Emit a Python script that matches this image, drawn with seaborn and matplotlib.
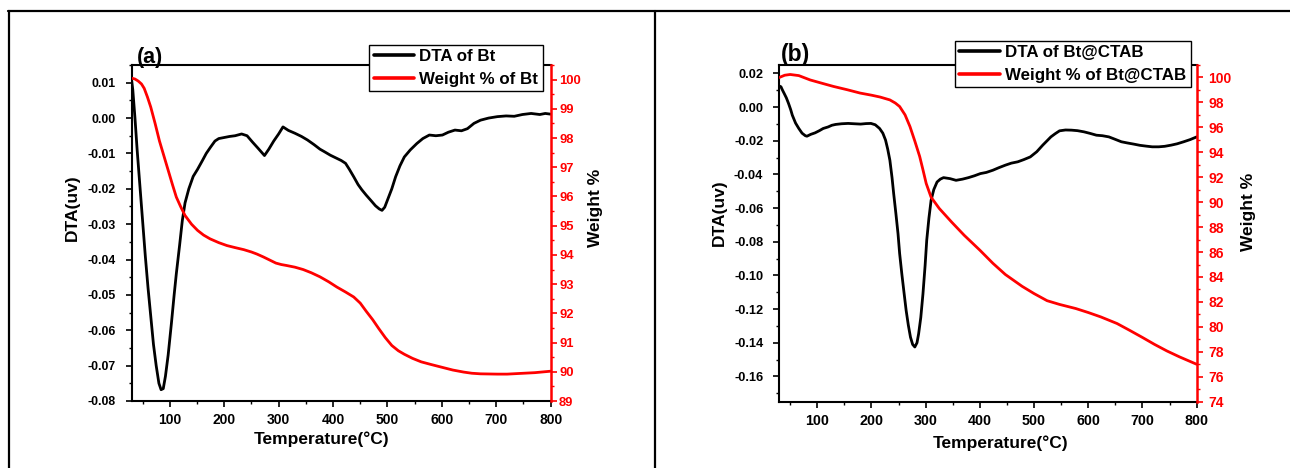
import matplotlib
matplotlib.use("Agg")
import matplotlib.pyplot as plt
from matplotlib.lines import Line2D
from matplotlib.ticker import MultipleLocator, FormatStrFormatter
import pandas as pd
import seaborn as sns

# ---- Bt: DTA signal (uv) vs temperature (°C)
bt_dta_temp = [30, 32, 36, 40, 45, 50, 55, 60, 65, 70, 75, 80, 84, 88, 92, 97, 103, 108,
               112, 118, 123, 128, 135, 143, 151, 160, 167, 175, 183, 190, 200, 210, 220,
               232, 242, 252, 262, 274, 282, 291, 300, 308, 318, 330, 342, 353, 365, 376,
               384, 395, 407, 415, 423, 430, 438, 446, 453, 461, 469, 478, 485, 490, 495,
               500, 508, 515, 523, 531, 542, 554, 565, 577, 589, 601, 612, 624, 636, 647,
               659, 671, 686, 702, 718, 733, 748, 764, 780, 790, 800]
bt_dta = [0.0105, 0.008, 0.0, -0.009, -0.019, -0.029, -0.039, -0.048, -0.056, -0.064,
          -0.070, -0.075, -0.0768, -0.0765, -0.073, -0.067, -0.058, -0.050, -0.044,
          -0.036, -0.029, -0.024, -0.020, -0.0165, -0.0145, -0.012, -0.010, -0.0082,
          -0.0065, -0.0058, -0.0055, -0.0052, -0.0050, -0.0045, -0.0050, -0.0068,
          -0.0085, -0.0106, -0.0088, -0.0065, -0.0045, -0.0025, -0.0035, -0.0043,
          -0.0052, -0.0062, -0.0075, -0.0088, -0.0095, -0.0105, -0.0114, -0.0120,
          -0.0128, -0.0145, -0.0166, -0.0188, -0.0203, -0.0218, -0.0232, -0.0248,
          -0.0257, -0.0261, -0.0252, -0.0232, -0.0200, -0.0166, -0.0135, -0.0110,
          -0.0090, -0.0072, -0.0058, -0.0048, -0.0050, -0.0048, -0.0040, -0.0034,
          -0.0036, -0.0030, -0.0015, -0.0006, 0.0000, 0.0004, 0.0006, 0.0005, 0.0010,
          0.0013, 0.0010, 0.0013, 0.0011]

# ---- Bt: weight % vs temperature (°C)
bt_wt_temp = [30, 36, 42, 48, 53, 59, 65, 73, 81, 89, 97, 105, 112, 120, 128, 140, 151,
              162, 174, 190, 205, 220, 236, 250, 260, 272, 283, 295, 305, 314, 330, 345,
              360, 376, 392, 407, 423, 438, 450, 461, 473, 484, 496, 508, 520, 531, 546,
              562, 580, 601, 620, 640, 655, 671, 702, 720, 740, 771, 800]
bt_wt = [100.05, 100.02, 99.95, 99.85, 99.7, 99.4, 99.06, 98.5, 97.9, 97.4, 96.9, 96.4,
         95.98, 95.65, 95.35, 95.05, 94.84, 94.68, 94.55, 94.42, 94.32, 94.25, 94.18,
         94.1, 94.03, 93.93, 93.83, 93.72, 93.67, 93.64, 93.58, 93.5, 93.39, 93.25,
         93.08, 92.9, 92.73, 92.56, 92.35, 92.07, 91.78, 91.48, 91.17, 90.9, 90.72,
         90.6, 90.46, 90.34, 90.25, 90.15, 90.06, 89.99, 89.95, 89.93, 89.92, 89.92,
         89.94, 89.97, 90.02]

# ---- Bt@CTAB: DTA signal (uv) vs temperature (°C)
ctab_dta_temp = [30, 33, 36, 39, 43, 47, 51, 54, 60, 66, 72, 78, 81, 88, 96, 104, 111,
                 120, 127, 134, 145, 157, 168, 180, 190, 199, 207, 215, 221, 226, 230,
                 234, 238, 241, 245, 249, 252, 256, 260, 264, 268, 272, 276, 280, 284,
                 287, 291, 295, 299, 302, 306, 310, 315, 321, 327, 333, 345, 356, 368,
                 379, 390, 401, 412, 424, 435, 447, 458, 470, 481, 493, 505, 516, 524,
                 531, 539, 547, 558, 569, 580, 592, 603, 615, 626, 638, 650, 661, 672,
                 684, 695, 707, 718, 730, 741, 753, 764, 776, 788, 800]
ctab_dta = [0.0125, 0.0121, 0.0100, 0.0081, 0.0055, 0.0022, -0.0015, -0.0048, -0.0095,
            -0.0127, -0.0155, -0.0170, -0.0173, -0.0162, -0.0153, -0.0140, -0.0127,
            -0.0118, -0.0108, -0.0103, -0.0099, -0.0097, -0.0099, -0.0101, -0.0098,
            -0.0097, -0.0105, -0.0127, -0.0155, -0.0196, -0.0250, -0.0316, -0.0420,
            -0.0514, -0.0630, -0.0752, -0.0870, -0.0990, -0.1100, -0.1208, -0.1295,
            -0.1367, -0.1410, -0.1425, -0.1400, -0.1347, -0.1250, -0.1110, -0.0940,
            -0.0790, -0.0660, -0.0554, -0.0490, -0.0445, -0.0428, -0.0419, -0.0425,
            -0.0435, -0.0428, -0.0419, -0.0408, -0.0395, -0.0388, -0.0375, -0.0360,
            -0.0345, -0.0333, -0.0325, -0.0312, -0.0296, -0.0265, -0.0226, -0.0200,
            -0.0177, -0.0158, -0.0141, -0.0136, -0.0137, -0.0140, -0.0147, -0.0156,
            -0.0167, -0.0170, -0.0177, -0.0192, -0.0206, -0.0213, -0.0220, -0.0227,
            -0.0232, -0.0236, -0.0236, -0.0233, -0.0226, -0.0218, -0.0206, -0.0193,
            -0.0177]

# ---- Bt@CTAB: weight % vs temperature (°C)
ctab_wt_temp = [30, 40, 50, 66, 87, 110, 130, 155, 179, 200, 216, 234, 244, 252, 262,
                271, 280, 289, 295, 301, 310, 325, 348, 371, 400, 424, 447, 478, 500,
                524, 547, 577, 600, 623, 653, 676, 700, 722, 745, 768, 800]
ctab_wt = [100.0, 100.18, 100.24, 100.15, 99.8, 99.52, 99.28, 99.02, 98.75, 98.58,
           98.43, 98.2, 97.95, 97.67, 97.0, 96.07, 94.9, 93.66, 92.6, 91.5, 90.4, 89.5,
           88.4, 87.35, 86.15, 85.1, 84.2, 83.25, 82.67, 82.1, 81.8, 81.47, 81.15,
           80.8, 80.27, 79.73, 79.15, 78.6, 78.07, 77.6, 77.0]

sns.set_theme(style="ticks")
plt.rcParams["font.family"] = ["Liberation Sans", "DejaVu Sans"]
plt.rcParams["font.weight"] = "bold"
plt.rcParams["axes.labelweight"] = "bold"
plt.rcParams["axes.unicode_minus"] = False
plt.rcParams["text.color"] = "black"
plt.rcParams["axes.labelcolor"] = "black"

fig = plt.figure(figsize=(12.9, 4.68), dpi=100)
W, H = 1290.0, 468.0

# table-style frame around the two panels
frame_kw = dict(transform=fig.transFigure, color="black", lw=1.6)
fig.add_artist(Line2D([8 / W, 1.0], [1 - 11 / H, 1 - 11 / H], **frame_kw))
fig.add_artist(Line2D([8.5 / W, 8.5 / W], [0, 1 - 11 / H], **frame_kw))
fig.add_artist(Line2D([655 / W, 655 / W], [0, 1 - 11 / H], **frame_kw))


def panel(rect, dta_t, dta_v, wt_t, wt_v, names, tag, ylim, ystep, y2lim, y2step,
          sizes, pads, label_pos, leg_anchor, leg_size, tag_pos, tag_size):
    ax = fig.add_axes(rect)
    ax2 = ax.twinx()

    dta_df = pd.DataFrame({"T": dta_t, "DTA": dta_v})
    wt_df = pd.DataFrame({"T": wt_t, "W": wt_v})
    sns.lineplot(data=dta_df, x="T", y="DTA", ax=ax, color="black", lw=2.0,
                 sort=False, legend=False)
    sns.lineplot(data=wt_df, x="T", y="W", ax=ax2, color="red", lw=2.0,
                 sort=False, legend=False)

    ax.set_xlim(30, 800)
    ax.set_ylim(*ylim)
    ax2.set_ylim(*y2lim)

    ax.xaxis.set_major_locator(MultipleLocator(100))
    ax.xaxis.set_minor_locator(MultipleLocator(50))
    ax.yaxis.set_major_locator(MultipleLocator(ystep))
    ax.yaxis.set_minor_locator(MultipleLocator(ystep / 2))
    ax.yaxis.set_major_formatter(FormatStrFormatter("%.2f"))
    ax2.yaxis.set_major_locator(MultipleLocator(y2step))
    ax2.yaxis.set_minor_locator(MultipleLocator(y2step / 2))
    ax2.yaxis.set_major_formatter(FormatStrFormatter("%d"))

    for s in ["left", "top", "bottom"]:
        ax.spines[s].set_color("black")
        ax.spines[s].set_linewidth(1.5)
        ax2.spines[s].set_visible(False)
    ax.spines["right"].set_visible(False)
    ax2.spines["right"].set_color("red")
    ax2.spines["right"].set_linewidth(1.8)

    ax.tick_params(axis="x", which="major", direction="out", length=4, width=1.2,
                   labelsize=sizes[0], pad=pads[0], colors="black")
    ax.tick_params(axis="x", which="minor", direction="out", length=2.5, width=1.0,
                   colors="black")
    ax.tick_params(axis="y", which="major", direction="out", length=4, width=1.2,
                   labelsize=sizes[1], pad=pads[1], colors="black")
    ax.tick_params(axis="y", which="minor", direction="out", length=2.5, width=1.0,
                   colors="black")
    ax2.tick_params(axis="y", which="major", direction="out", length=4, width=1.2,
                    labelsize=sizes[2], pad=pads[2], colors="red")
    ax2.tick_params(axis="y", which="minor", direction="out", length=2.5, width=1.0,
                    colors="red")
    for lab in ax.get_xticklabels() + ax.get_yticklabels() + ax2.get_yticklabels():
        lab.set_fontweight("bold")

    ax.set_xlabel("Temperature(°C)", fontsize=12.5, fontweight="bold", color="black")
    ax.set_ylabel("DTA(uv)", fontsize=12.5, fontweight="bold", color="black")
    ax2.set_ylabel("Weight %", fontsize=12.5, fontweight="bold", color="black",
                   rotation=90)
    ax.xaxis.label.set_va("center")
    ax.yaxis.label.set_va("center")
    ax2.yaxis.label.set_va("center")
    ax.xaxis.set_label_coords(*label_pos[0])
    ax.yaxis.set_label_coords(*label_pos[1])
    ax2.yaxis.set_label_coords(*label_pos[2])

    handles = [Line2D([], [], color="black", lw=2.6), Line2D([], [], color="red", lw=2.6)]
    leg = ax2.legend(handles, names, loc="upper left", bbox_to_anchor=leg_anchor,
                     borderaxespad=0, frameon=True, fancybox=False, framealpha=1,
                     edgecolor="black", facecolor="white",
                     prop={"weight": "bold", "size": leg_size}, handlelength=2.4,
                     handletextpad=0.3, borderpad=0.26, labelspacing=0.42,
                     labelcolor="black")
    leg.get_frame().set_linewidth(1.0)

    ax.text(tag_pos[0], tag_pos[1], tag, transform=ax.transAxes, fontsize=tag_size,
            fontweight="bold", va="baseline", ha="left", color="black")
    return ax, ax2


panel([131.7 / W, 1 - 401 / H, 419 / W, 336 / H],
      bt_dta_temp, bt_dta, bt_wt_temp, bt_wt,
      ["DTA of Bt", "Weight % of Bt"], "(a)",
      (-0.08, 0.015), 0.01, (89, 100.5), 1,
      sizes=(10, 8.8, 9.4), pads=(5, 7.5, 2),
      label_pos=((0.454, -0.113), (-0.142, 0.574), (1.106, 0.574)),
      leg_anchor=(0.567, 1.0595), leg_size=12.2, tag_pos=(0.012, 1.007), tag_size=15.5)

panel([779.3 / W, 1 - 401.7 / H, 417.4 / W, 336.7 / H],
      ctab_dta_temp, ctab_dta, ctab_wt_temp, ctab_wt,
      ["DTA of Bt@CTAB", "Weight % of Bt@CTAB"], "(b)",
      (-0.175, 0.025), 0.02, (74, 101), 2,
      sizes=(10.3, 9.2, 10), pads=(5, 7.5, 4.5),
      label_pos=((0.530, -0.124), (-0.144, 0.560), (1.125, 0.564)),
      leg_anchor=(0.421, 1.0713), leg_size=12.2, tag_pos=(0.003, 1.012), tag_size=16.5)

fig.savefig("out.png", dpi=100)
